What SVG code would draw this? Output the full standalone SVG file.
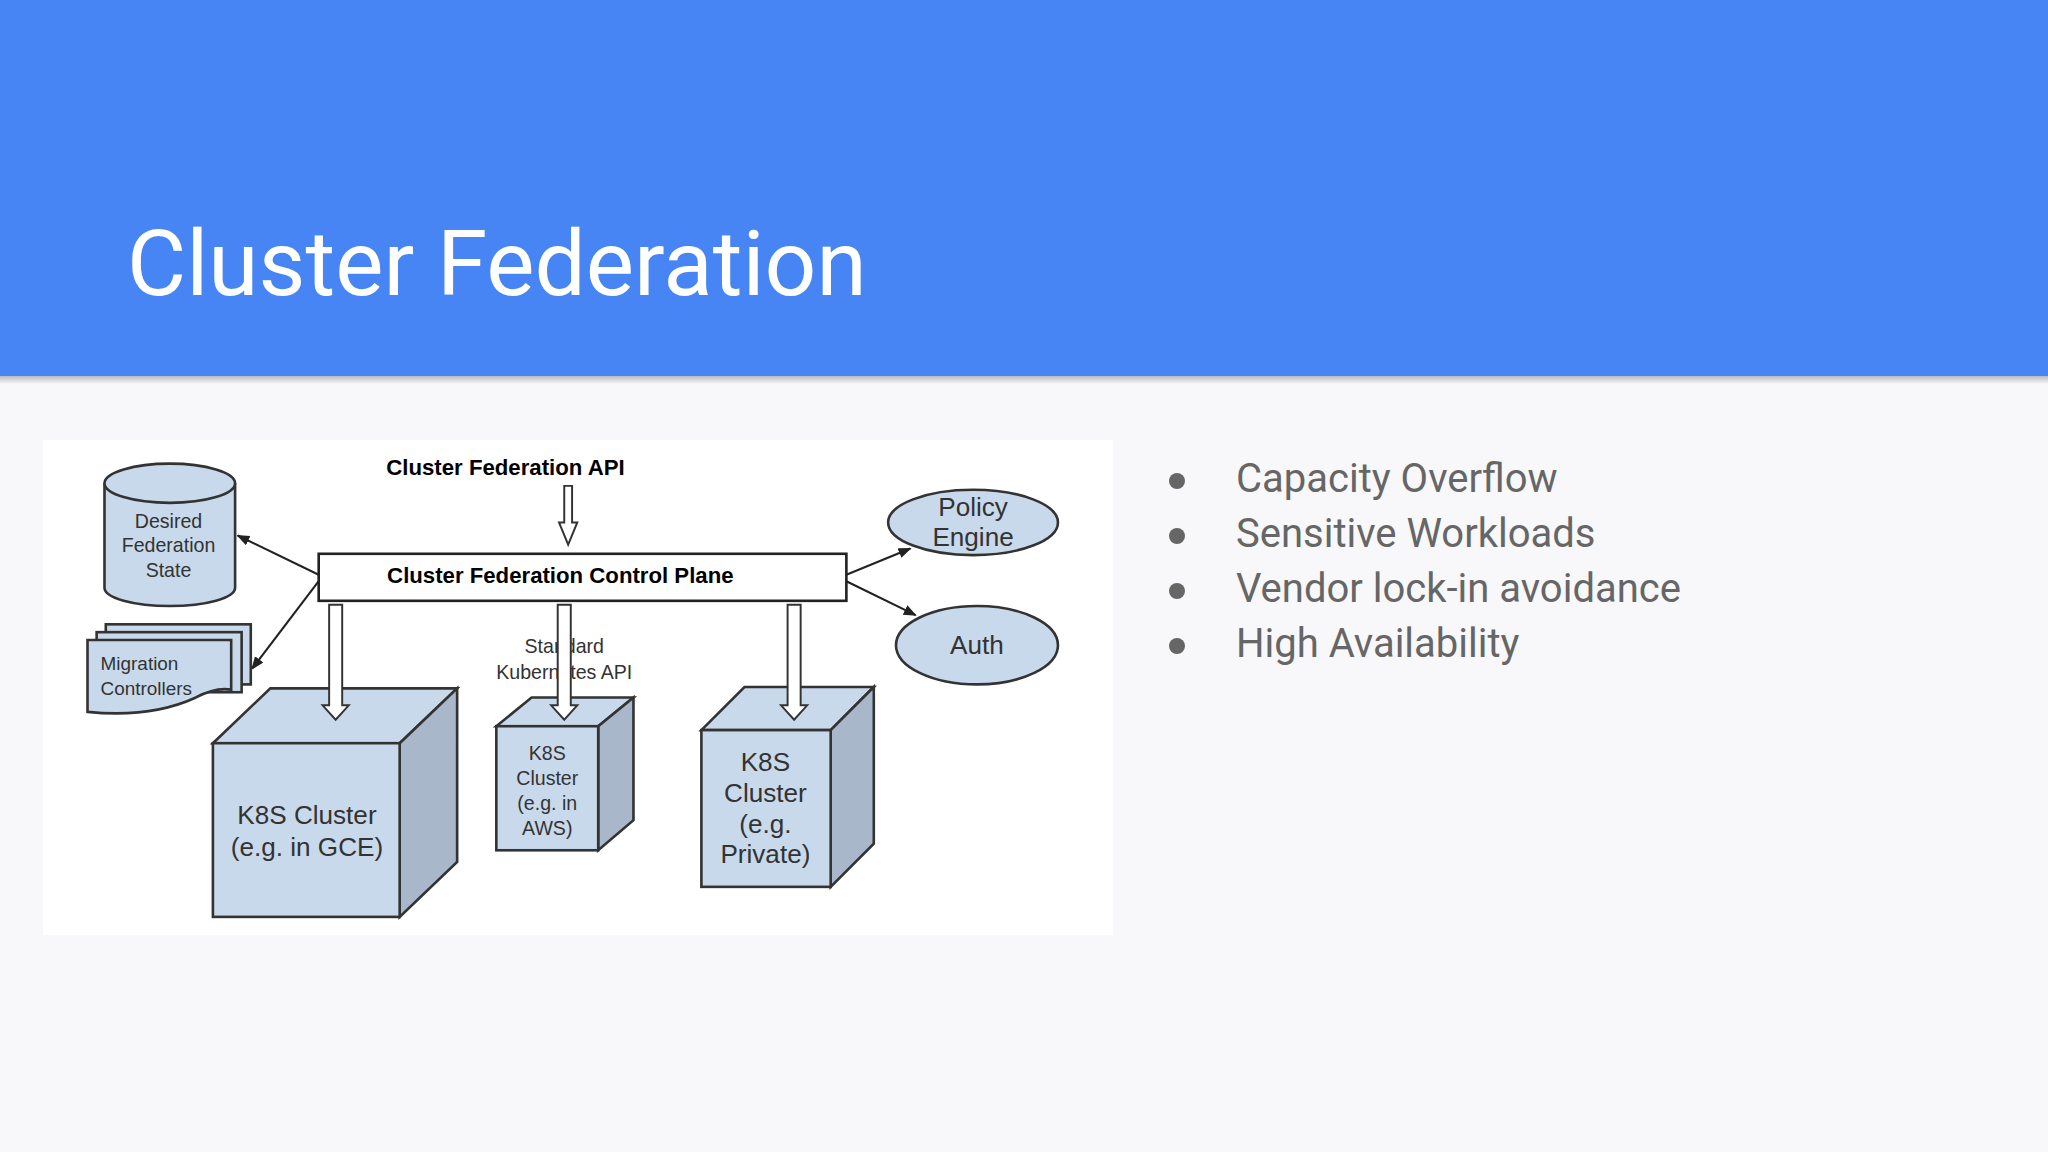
<svg xmlns="http://www.w3.org/2000/svg" width="2048" height="1152" viewBox="0 0 2048 1152">
<defs>
<style>
.f{fill:#c8d9ec;stroke:#333;stroke-width:2}
.s{fill:#a8b8ca;stroke:#333;stroke-width:2}
.t{font-family:"Liberation Sans",Arial,sans-serif;fill:#333;text-anchor:middle}
.b{font-family:"Liberation Sans",Arial,sans-serif;font-weight:bold;fill:#000;text-anchor:middle;font-size:17px}
.ln{stroke:#222;stroke-width:1.6;fill:none}
.ho{fill:#fff;stroke:#333;stroke-width:1.5}
.bl{font-family:Roboto,"Liberation Sans",sans-serif;font-size:40px;fill:#666}
</style>
<marker id="ah" markerWidth="10" markerHeight="8" refX="9" refY="4" orient="auto" markerUnits="userSpaceOnUse"><path d="M0,0 L10,4 L0,8 Z" fill="#222"/></marker>
<linearGradient id="sh" x1="0" y1="0" x2="0" y2="1"><stop offset="0" stop-color="#000" stop-opacity="0.25"/><stop offset="1" stop-color="#000" stop-opacity="0"/></linearGradient>
</defs>
<rect width="2048" height="1152" fill="#f8f8fa"/>
<rect width="2048" height="376" fill="#4785f4"/>
<rect y="376" width="2048" height="8" fill="url(#sh)"/>
<text x="127" y="295" font-family="Roboto,'Liberation Sans',sans-serif" font-size="91" fill="#fff">Cluster Federation</text>
<g id="bullets">
<circle cx="1177" cy="481" r="8" fill="#666"/><text class="bl" x="1236" y="492">Capacity Overflow</text>
<circle cx="1177" cy="536" r="8" fill="#666"/><text class="bl" x="1236" y="547">Sensitive Workloads</text>
<circle cx="1177" cy="591" r="8" fill="#666"/><text class="bl" x="1236" y="602">Vendor lock-in avoidance</text>
<circle cx="1177" cy="646" r="8" fill="#666"/><text class="bl" x="1236" y="657">High Availability</text>
</g>
<g transform="scale(1.30612)">
<rect x="33" y="337" width="819" height="379" fill="#fff"/>
<g id="connectors">
<line class="ln" x1="244" y1="440" x2="182" y2="410" marker-end="url(#ah)"/>
<line class="ln" x1="244" y1="445" x2="193" y2="512" marker-end="url(#ah)"/>
<line class="ln" x1="648" y1="440" x2="697" y2="420" marker-end="url(#ah)"/>
<line class="ln" x1="648" y1="445" x2="701" y2="471" marker-end="url(#ah)"/>
</g>
<g id="api">
<text class="b" x="387" y="364">Cluster Federation API</text>
<path class="ho" d="M432,372 H438 V400 H442 L435,417 L428,400 H432 Z"/>
</g>
<g id="db">
<path class="f" d="M80,370 V450 A50,14 0 0 0 180,450 V370"/>
<ellipse class="f" cx="130" cy="370" rx="50" ry="15"/>
<text class="t" font-size="15" x="129" y="404">Desired</text>
<text class="t" font-size="15" x="129" y="423">Federation</text>
<text class="t" font-size="15" x="129" y="442">State</text>
</g>
<g id="migration">
<rect class="f" x="81" y="478" width="111" height="46"/>
<rect class="f" x="74" y="484" width="111" height="46"/>
<path class="f" d="M67,490 H177 V528 Q165,526 150,534 Q115,550 67,545 Z"/>
<text class="t" font-size="14.5" x="77" y="513" style="text-anchor:start">Migration</text>
<text class="t" font-size="14.5" x="77" y="532" style="text-anchor:start">Controllers</text>
</g>
<g id="cp">
<rect x="244" y="424" width="404" height="36" fill="#fff" stroke="#222" stroke-width="2"/>
<text class="b" x="429" y="446">Cluster Federation Control Plane</text>
</g>
<g id="policy">
<ellipse class="f" cx="745" cy="400" rx="65" ry="25"/>
<text class="t" font-size="20" x="745" y="395">Policy</text>
<text class="t" font-size="20" x="745" y="418">Engine</text>
</g>
<g id="auth">
<ellipse class="f" cx="748" cy="494" rx="62" ry="30"/>
<text class="t" font-size="20" x="748" y="501">Auth</text>
</g>
<g id="gce">
<polygon class="f" points="163,569 207,527 350,527 306,569"/>
<polygon class="s" points="306,569 350,527 350,660 306,702"/>
<rect class="f" x="163" y="569" width="143" height="133"/>
<text class="t" font-size="20" x="235" y="631">K8S Cluster</text>
<text class="t" font-size="20" x="235" y="655">(e.g. in GCE)</text>
</g>
<g id="aws">
<polygon class="f" points="380,556 407,534 485,534 458,556"/>
<polygon class="s" points="458,556 485,534 485,628 458,651"/>
<rect class="f" x="380" y="556" width="78" height="95"/>
<text class="t" font-size="15" x="419" y="582">K8S</text>
<text class="t" font-size="15" x="419" y="601">Cluster</text>
<text class="t" font-size="15" x="419" y="620">(e.g. in</text>
<text class="t" font-size="15" x="419" y="639">AWS)</text>
</g>
<g id="private">
<polygon class="f" points="537,559 570,526 669,526 636,559"/>
<polygon class="s" points="636,559 669,526 669,646 636,679"/>
<rect class="f" x="537" y="559" width="99" height="120"/>
<text class="t" font-size="20" x="586" y="590">K8S</text>
<text class="t" font-size="20" x="586" y="614">Cluster</text>
<text class="t" font-size="20" x="586" y="638">(e.g.</text>
<text class="t" font-size="20" x="586" y="661">Private)</text>
</g>
<g id="stdapi">
<text class="t" font-size="15" x="432" y="500" fill="#555">Standard</text>
<text class="t" font-size="15" x="432" y="520" fill="#555">Kubernetes API</text>
</g>
<g id="down-arrows">
<path class="ho" d="M252,463 H262 V540 H267 L257,551 L247,540 H252 Z"/>
<path class="ho" d="M427,463 H437 V540 H442 L432,551 L422,540 H427 Z"/>
<path class="ho" d="M603,463 H613 V540 H618 L608,551 L598,540 H603 Z"/>
</g>
</g>
</svg>
